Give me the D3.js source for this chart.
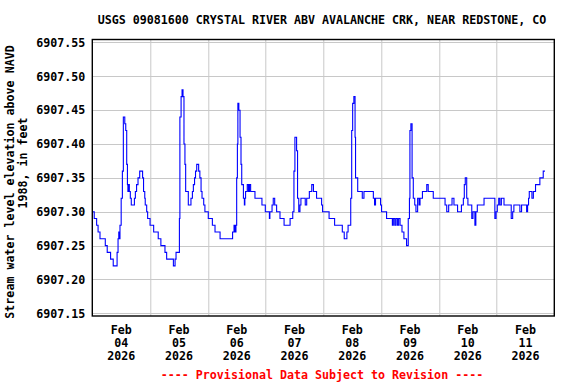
<!DOCTYPE html>
<html>
<head>
<meta charset="utf-8">
<script src="https://cdn.jsdelivr.net/npm/d3@7"></script>
<style>
  body { margin: 0; background: #fff; }
  svg text { font-family: "DejaVu Sans Mono", monospace; font-weight: bold; font-size: 11.65px; fill: #000; }
</style>
</head>
<body>
<svg id="chart" width="576" height="384"></svg>
<script>
const title = "USGS 09081600 CRYSTAL RIVER ABV AVALANCHE CRK, NEAR REDSTONE, CO";
const yLabelLines = ["Stream water level elevation above NAVD", "1988, in feet"];
const footer = "---- Provisional Data Subject to Revision ----";

const yTicks = [6907.15, 6907.20, 6907.25, 6907.30, 6907.35, 6907.40, 6907.45, 6907.50, 6907.55];
const dayLabels = ["04", "05", "06", "07", "08", "09", "10", "11"];

// hours since Feb 04 2026 00:00, and the stage reached at that time
const hours = [
  0, 0.8, 1.8, 2.4, 3.2, 5.4, 6.2, 7.6, 8.7, 10.3, 10.7, 11.0, 11.2, 11.5, 12.0, 12.5, 12.9, 13.5, 13.9,
  14.3, 14.6, 14.8, 15.1, 15.4, 15.8, 16.2, 17.5, 17.9, 18.4, 19.0, 19.7, 20.9, 21.3, 21.8, 22.0, 22.6,
  23.0, 24.0, 25.5, 27.4, 28.5, 30.2, 30.9, 33.7, 34.4, 34.8, 36.2, 36.4, 36.9, 37.3, 37.7, 38.1, 38.5,
  38.8, 39.9, 41.0, 41.6, 42.0, 42.5, 42.9, 43.4, 44.2, 44.7, 45.2, 45.6, 46.3, 46.8, 48.2, 49.9, 51.0,
  53.1, 58.3, 58.9, 59.3, 59.7, 60.0, 60.3, 60.5, 60.9, 61.4, 61.8, 62.1, 62.8, 63.2, 63.4, 63.7, 64.4,
  64.9, 65.3, 65.8, 67.6, 70.5, 71.9, 73.6, 73.8, 74.7, 75.2, 75.8, 76.6, 78.0, 79.7, 82.2, 83.3, 83.8,
  84.2, 84.9, 85.3, 85.8, 86.3, 86.7, 88.5, 89.1, 90.2, 91.2, 91.9, 93.2, 95.3, 95.7, 98.4, 100.7, 103.9,
  104.7, 105.8, 106.3, 107.4, 107.8, 108.2, 108.7, 109.2, 109.4, 110.3, 112.2, 112.9, 116.8, 117.3, 117.7,
  119.8, 120.2, 122.3, 124.7, 125.1, 125.7, 126.2, 126.8, 127.3, 127.9, 128.7, 129.5, 130.6, 131.3, 131.8,
  132.0, 132.4, 132.9, 133.4, 134.0, 134.5, 135.2, 135.8, 136.2, 137.2, 139.0, 139.6, 141.7, 146.6, 147.3,
  148.1, 149.5, 150.3, 151.8, 153.4, 154.2, 154.6, 155.0, 155.6, 156.1, 157.7, 158.2, 159.0, 159.4, 160.0,
  162.8, 167.3, 167.8, 168.3, 168.9, 169.4, 170.0, 171.1, 174.1, 174.7, 175.2, 177.7, 178.4, 180.5, 180.9,
  181.3, 181.6, 182.7, 183.3, 184.2, 186.0, 187.4, 188.1
];
const stage = [
  6907.30, 6907.29, 6907.28, 6907.27, 6907.26, 6907.25, 6907.24, 6907.23, 6907.22, 6907.24, 6907.26, 6907.27, 6907.26, 6907.28, 6907.32, 6907.36, 6907.44, 6907.43, 6907.42,
  6907.37, 6907.34, 6907.33, 6907.34, 6907.33, 6907.32, 6907.31, 6907.32, 6907.33, 6907.34, 6907.35, 6907.36, 6907.35, 6907.33, 6907.32, 6907.31, 6907.30,
  6907.29, 6907.28, 6907.27, 6907.26, 6907.25, 6907.24, 6907.23, 6907.22, 6907.23, 6907.24, 6907.29, 6907.44, 6907.47, 6907.48, 6907.47, 6907.40, 6907.37,
  6907.33, 6907.31, 6907.32, 6907.33, 6907.34, 6907.35, 6907.36, 6907.37, 6907.36, 6907.35, 6907.33, 6907.32, 6907.31, 6907.30, 6907.29, 6907.28, 6907.27,
  6907.26, 6907.27, 6907.28, 6907.27, 6907.28, 6907.35, 6907.40, 6907.46, 6907.45, 6907.41, 6907.37, 6907.34, 6907.32, 6907.31, 6907.32, 6907.33, 6907.34,
  6907.33, 6907.34, 6907.33, 6907.32, 6907.31, 6907.30, 6907.29, 6907.30, 6907.31, 6907.32, 6907.31, 6907.30, 6907.29, 6907.28, 6907.29, 6907.30, 6907.36,
  6907.41, 6907.39, 6907.32, 6907.30, 6907.31, 6907.32, 6907.31, 6907.32, 6907.33, 6907.34, 6907.33, 6907.32, 6907.31, 6907.30, 6907.29, 6907.28, 6907.27,
  6907.26, 6907.27, 6907.28, 6907.32, 6907.42, 6907.46, 6907.47, 6907.41, 6907.35, 6907.33, 6907.32, 6907.33, 6907.32, 6907.31, 6907.32,
  6907.31, 6907.30, 6907.29, 6907.28, 6907.29, 6907.28, 6907.29, 6907.28, 6907.29, 6907.28, 6907.27, 6907.26, 6907.25, 6907.29, 6907.32,
  6907.42, 6907.43, 6907.35, 6907.32, 6907.31, 6907.30, 6907.32, 6907.31, 6907.32, 6907.33, 6907.34, 6907.33, 6907.32, 6907.31, 6907.30,
  6907.31, 6907.32, 6907.31, 6907.30, 6907.31, 6907.32, 6907.34, 6907.35, 6907.32, 6907.31, 6907.29, 6907.30, 6907.28, 6907.30, 6907.31,
  6907.32, 6907.29, 6907.30, 6907.31, 6907.32, 6907.31, 6907.32, 6907.31, 6907.29, 6907.30, 6907.31, 6907.30, 6907.31, 6907.30, 6907.31,
  6907.32, 6907.33, 6907.32, 6907.33, 6907.34, 6907.35, 6907.36, 6907.36
];

const svg = d3.select("#chart");
const margin = { top: 39.5, right: 21.7, bottom: 68, left: 92.3 };
const width = 576 - margin.left - margin.right;
const height = 384 - margin.top - margin.bottom;

const start = new Date(2026, 1, 4);
const data = hours.map((h, i) => ({ date: new Date(start.getTime() + h * 3600e3), value: stage[i] }));

const xScale = d3.scaleTime()
    .domain([start, d3.timeDay.offset(start, 8)])
    .range([0, width]);
const yScale = d3.scaleLinear()
    .domain([6907.146, 6907.5544])
    .range([height, 0]);

const chartArea = svg.append("g")
    .attr("transform", `translate(${margin.left},${margin.top})`);

// grid
const gridColor = "#c8c8c8";
const yAxisG = chartArea.append("g")
    .call(d3.axisLeft(yScale).tickValues(yTicks).tickSize(-width).tickFormat(d3.format(".2f")).tickPadding(7));
yAxisG.select(".domain").remove();
yAxisG.selectAll("line").attr("stroke", gridColor).attr("shape-rendering", "crispEdges");
yAxisG.selectAll("text").attr("fill", "#000").attr("font-size", null).attr("font-family", null);

const midnights = d3.range(1, 8).map(d => d3.timeDay.offset(start, d));
chartArea.append("g").selectAll("line")
    .data(midnights)
    .join("line")
    .attr("x1", d => Math.round(xScale(d)) + 0.5)
    .attr("x2", d => Math.round(xScale(d)) + 0.5)
    .attr("y1", 0)
    .attr("y2", height)
    .attr("stroke", gridColor);

// x labels at noon of each day
const noons = dayLabels.map((d, i) => d3.timeHour.offset(d3.timeDay.offset(start, i), 12));
const xLabels = chartArea.append("g").selectAll("text")
    .data(noons)
    .join("text")
    .attr("text-anchor", "middle")
    .attr("transform", d => `translate(${xScale(d)},${height + 18})`);
xLabels.append("tspan").attr("x", 0).attr("y", 0).text("Feb");
xLabels.append("tspan").attr("x", 0).attr("y", 12.9).text((d, i) => dayLabels[i]);
xLabels.append("tspan").attr("x", 0).attr("y", 25.8).text("2026");

// series
const line = d3.line()
    .x(d => xScale(d.date))
    .y(d => yScale(d.value))
    .curve(d3.curveStepAfter);
chartArea.append("path")
    .datum(data)
    .attr("fill", "none")
    .attr("stroke", "#0000ff")
    .attr("stroke-width", 1.1)
    .attr("d", line);

// frame
chartArea.append("rect")
    .attr("x", 0)
    .attr("y", 0)
    .attr("width", width)
    .attr("height", height)
    .attr("fill", "none")
    .attr("stroke", "#000")
    .attr("stroke-width", 1.4);

// title and labels
svg.append("text")
    .attr("x", 322)
    .attr("y", 24)
    .attr("text-anchor", "middle")
    .text(title);

svg.append("text")
    .attr("transform", "translate(14,182) rotate(-90)")
    .attr("text-anchor", "middle")
    .text(yLabelLines[0]);
svg.append("text")
    .attr("transform", "translate(27,163) rotate(-90)")
    .attr("text-anchor", "middle")
    .text(yLabelLines[1]);

svg.append("text")
    .attr("x", 322)
    .attr("y", 379)
    .attr("text-anchor", "middle")
    .attr("fill", "#ff0000")
    .style("fill", "#ff0000")
    .text(footer);
</script>
</body>
</html>
